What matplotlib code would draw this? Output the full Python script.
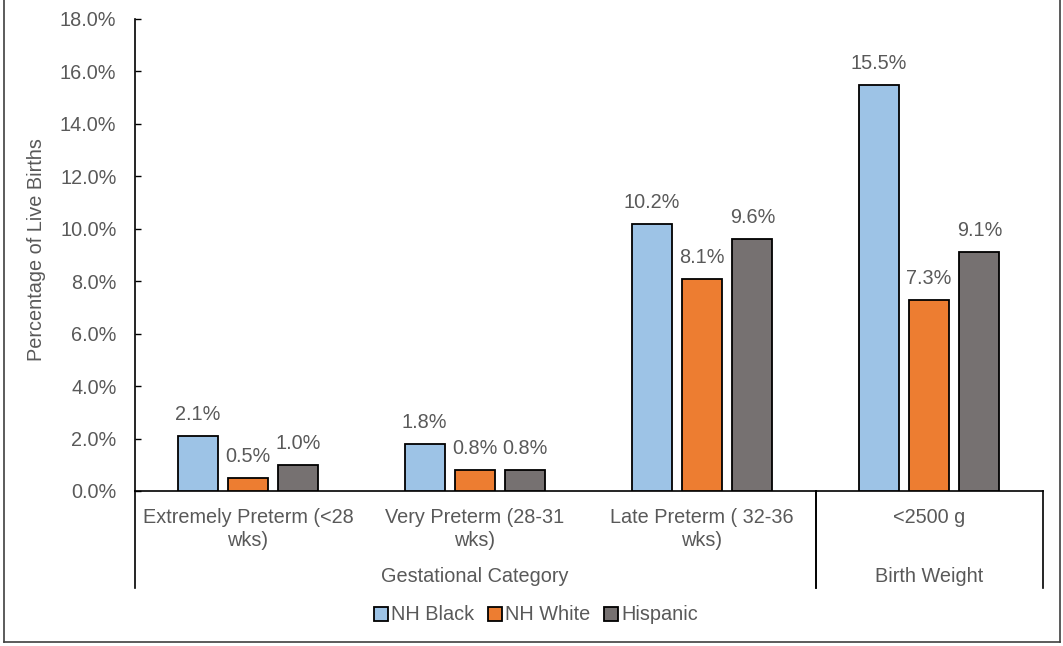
import matplotlib
matplotlib.use("Agg")
import matplotlib.pyplot as plt
from matplotlib.lines import Line2D
from matplotlib.patches import Patch
import matplotlib.transforms as mtransforms
import numpy as np

plt.rcParams['font.family'] = ['Liberation Sans', 'DejaVu Sans']

categories = ["Extremely Preterm (<28\nwks)", "Very Preterm (28-31\nwks)",
              "Late Preterm ( 32-36\nwks)", "<2500 g"]
groups = ["Gestational Category", "Birth Weight"]
group_spans = [(0, 3), (3, 4)]  # category index ranges
series_names = ["NH Black", "NH White", "Hispanic"]
nh_black = [2.1, 1.8, 10.2, 15.5]
nh_white = [0.5, 0.8, 8.1, 7.3]
hispanic = [1.0, 0.8, 9.6, 9.1]
yticks = [0, 2, 4, 6, 8, 10, 12, 14, 16, 18]

colors = ["#9DC3E6", "#ED7D31", "#767171"]
txt = "#595959"
fs = 14.3

W, H = 1063, 646
fig = plt.figure(figsize=(W / 100, H / 100), dpi=100)
ax = fig.add_axes([134.5 / W, (H - 491) / H, 908 / W, 472 / H])

x = np.arange(len(categories))
offsets = [-0.222, 0.0, 0.222]
bw = 0.176
for vals, off, c in zip([nh_black, nh_white, hispanic], offsets, colors):
    bars = ax.bar(x + off, vals, width=bw, color=c, edgecolor="black", linewidth=1.3, zorder=3)
    for xi, v in zip(x + off, vals):
        ax.annotate(f"{v:.1f}%", (xi, v), xytext=(0, 15.5), textcoords="offset points",
                    ha="center", va="center", fontsize=fs, color=txt)

ax.set_xlim(-0.5, len(categories) - 0.5)
ax.set_ylim(0, 18)
ax.set_yticks(yticks)
ax.set_yticklabels([f"{t:.1f}%" for t in yticks], fontsize=fs, color=txt)
ax.tick_params(axis="y", direction="in", length=4, width=1, pad=13)
ax.set_xticks([])
for s in ["top", "right"]:
    ax.spines[s].set_visible(False)
ax.spines["left"].set_linewidth(1.2)
ax.spines["bottom"].set_linewidth(1.2)

trans = mtransforms.blended_transform_factory(ax.transData, ax.transAxes)
ybot = (491 - 588) / 472
# group divider lines
for (a, b) in group_spans:
    for xv in (a - 0.5, b - 0.5):
        ax.add_line(Line2D([xv, xv], [0, ybot], transform=trans, color="black",
                           lw=1.2, clip_on=False))
for i, c in enumerate(categories):
    ax.text(i, (491 - 508) / 472, c, transform=trans, ha="center", va="top",
            fontsize=fs, color=txt, linespacing=1.3)
for g, (a, b) in zip(groups, group_spans):
    ax.text((a + b - 1) / 2, (491 - 577) / 472, g, transform=trans, ha="center",
            va="center", fontsize=fs, color=txt)

fig.text(37 / W, 1 - 250 / H, "Percentage of Live Births", rotation=90,
         ha="center", va="center", fontsize=fs, color=txt)

handles = [Patch(facecolor=c, edgecolor="black", linewidth=1.3) for c in colors]
fig.legend(handles, series_names, loc="center", bbox_to_anchor=(536 / W, 1 - 615 / H),
           ncol=3, frameon=False, fontsize=fs, handlelength=0.7, handleheight=0.7,
           handletextpad=0.15, columnspacing=0.7, labelcolor=txt)

# figure border
bc = "#404040"
fig.add_artist(Line2D([4 / W, 4 / W], [1 - 642 / H, 1], transform=fig.transFigure, color=bc, lw=1.2))
fig.add_artist(Line2D([1060 / W, 1060 / W], [1 - 642 / H, 1], transform=fig.transFigure, color=bc, lw=1.2))
fig.add_artist(Line2D([4 / W, 1060 / W], [1 - 642 / H, 1 - 642 / H], transform=fig.transFigure, color=bc, lw=1.2))

fig.savefig("out.png", dpi=100)
